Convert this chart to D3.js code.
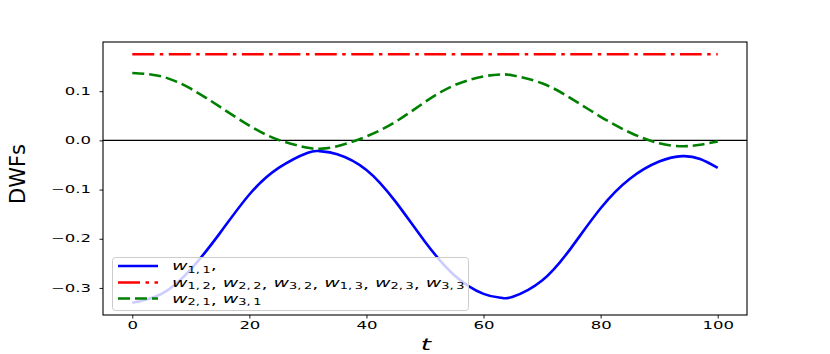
<!DOCTYPE html>
<html>
<head>
<meta charset="utf-8">
<script src="https://cdn.jsdelivr.net/npm/d3@7"></script>
<style>
  body { margin: 0; background: #fff; }
  text { font-family: "DejaVu Sans", sans-serif; }
</style>
</head>
<body>
<div id="chart"></div>
<script>
// time samples
const tValues = [0, 5, 10, 15, 20, 25, 30, 32, 35, 40, 45, 50, 55, 60, 63, 65, 70, 75, 80, 85, 90, 94, 97, 100];
// w_{1,1}
const w11 = [-0.330, -0.312, -0.262, -0.188, -0.110, -0.056, -0.025, -0.022, -0.028, -0.060, -0.125, -0.206,
             -0.274, -0.312, -0.320, -0.318, -0.285, -0.218, -0.138, -0.078, -0.043, -0.032, -0.038, -0.056];
// w_{2,1}, w_{3,1}
const w21 = [0.137, 0.130, 0.105, 0.068, 0.030, 0.001, -0.015, -0.017, -0.012, 0.008, 0.038, 0.078,
             0.112, 0.130, 0.134, 0.132, 0.116, 0.085, 0.048, 0.016, -0.006, -0.012, -0.009, -0.002];
// w_{1,2}, w_{2,2}, w_{3,2}, w_{1,3}, w_{2,3}, w_{3,3} (constant)
const w12 = tValues.map(() => 0.175);

const xTicks = [0, 20, 40, 60, 80, 100];
const yTicks = [-0.3, -0.2, -0.1, 0.0, 0.1];

const legendSubs = [
    ["1,\u20091"],
    ["1,\u20092", "2,\u20092", "3,\u20092", "1,\u20093", "2,\u20093", "3,\u20093"],
    ["2,\u20091", "3,\u20091"]
];
const legendTrail = [",", "", ""];

const width = 830, height = 354;
const stretch = 1.65;   // the original picture is squeezed wide
const legStretch = 1.52;

let svg = d3.select("#chart").append("svg")
    .attr("width", width)
    .attr("height", height);

svg.append("rect").attr("width", width).attr("height", height).attr("fill", "#fff");

let x = d3.scaleLinear().domain([-5, 105]).range([103, 747]);
let y = d3.scaleLinear().domain([-0.355, 0.2]).range([315, 42]);

let line = d3.line()
    .x(function (d) { return x(d[0]); })
    .y(function (d) { return y(d[1]); })
    .curve(d3.curveNatural);

let series = [
    { vals: w11, color: "#0000ff", dash: null },
    { vals: w12, color: "#ff0000", dash: "22,5.5,3.5,5.5" },
    { vals: w21, color: "#008000", dash: "12,5" }
];

// zero line
svg.append("line")
    .attr("x1", 103).attr("x2", 747)
    .attr("y1", y(0)).attr("y2", y(0))
    .attr("stroke", "#000").attr("stroke-width", 1.3);

series.forEach(function (s) {
    svg.append("path")
        .datum(tValues.map(function (t, i) { return [t, s.vals[i]]; }))
        .attr("d", line)
        .attr("fill", "none")
        .attr("stroke", s.color)
        .attr("stroke-width", 2.6)
        .attr("stroke-dasharray", s.dash);
});

// frame
svg.append("rect")
    .attr("x", 103).attr("y", 42)
    .attr("width", 644).attr("height", 273)
    .attr("fill", "none").attr("stroke", "#000").attr("stroke-width", 1.1);

// AXES
let xAxis = svg.append("g")
    .attr("transform", "translate(0,315)")
    .call(d3.axisBottom(x).tickValues(xTicks).tickSize(3.5).tickPadding(3.5).tickFormat(d3.format("d")));

let yAxis = svg.append("g")
    .attr("transform", "translate(103,0)")
    .call(d3.axisLeft(y).tickValues(yTicks).tickSize(3.5).tickPadding(3.5).tickFormat(d3.format(".1f")));

[xAxis, yAxis].forEach(function (a) {
    a.select(".domain").remove();
    a.selectAll(".tick line").attr("stroke", "#000").attr("stroke-width", 0.9);
    a.selectAll(".tick text").attr("font-family", "DejaVu Sans").attr("font-size", 10).attr("fill", "#000");
});
xAxis.selectAll(".tick text").attr("transform", "scale(" + stretch + ",1)");
yAxis.selectAll(".tick text").attr("x", 0).attr("transform", "translate(-12,0) scale(" + stretch + ",1)");

// labels
svg.append("text")
    .attr("transform", "translate(25,174) rotate(-90)")
    .attr("text-anchor", "middle")
    .attr("font-size", 21)
    .text("DWFs");

svg.append("text")
    .attr("transform", "translate(426,350) scale(" + stretch + ",1)")
    .attr("text-anchor", "middle")
    .attr("font-size", 16)
    .attr("font-style", "italic")
    .text("t");

// LEGEND
let legend = svg.append("g");
legend.append("rect")
    .attr("x", 112.5).attr("y", 257.5)
    .attr("width", 356).attr("height", 53)
    .attr("rx", 3)
    .attr("fill", "#fff").attr("fill-opacity", 0.8)
    .attr("stroke", "#cccccc");

let rowY = [266, 282.5, 298.5];
series.forEach(function (s, i) {
    legend.append("line")
        .attr("x1", 118).attr("x2", 158)
        .attr("y1", rowY[i]).attr("y2", rowY[i])
        .attr("stroke", s.color).attr("stroke-width", 2.6)
        .attr("stroke-dasharray", s.dash);

    let txt = legend.append("text")
        .attr("transform", "translate(172," + (rowY[i] + 4) + ") scale(" + legStretch + ",1)")
        .attr("font-size", 12.5);
    legendSubs[i].forEach(function (sub, j) {
        txt.append("tspan").attr("font-style", "italic").attr("dy", j === 0 ? 0 : -2.5).text("w");
        txt.append("tspan").attr("font-size", 8.5).attr("dy", 2.5).text(sub);
        if (j < legendSubs[i].length - 1) txt.append("tspan").text(", ");
    });
    if (legendTrail[i]) txt.append("tspan").attr("dy", -2.5).text(legendTrail[i]);
});
</script>
</body>
</html>
